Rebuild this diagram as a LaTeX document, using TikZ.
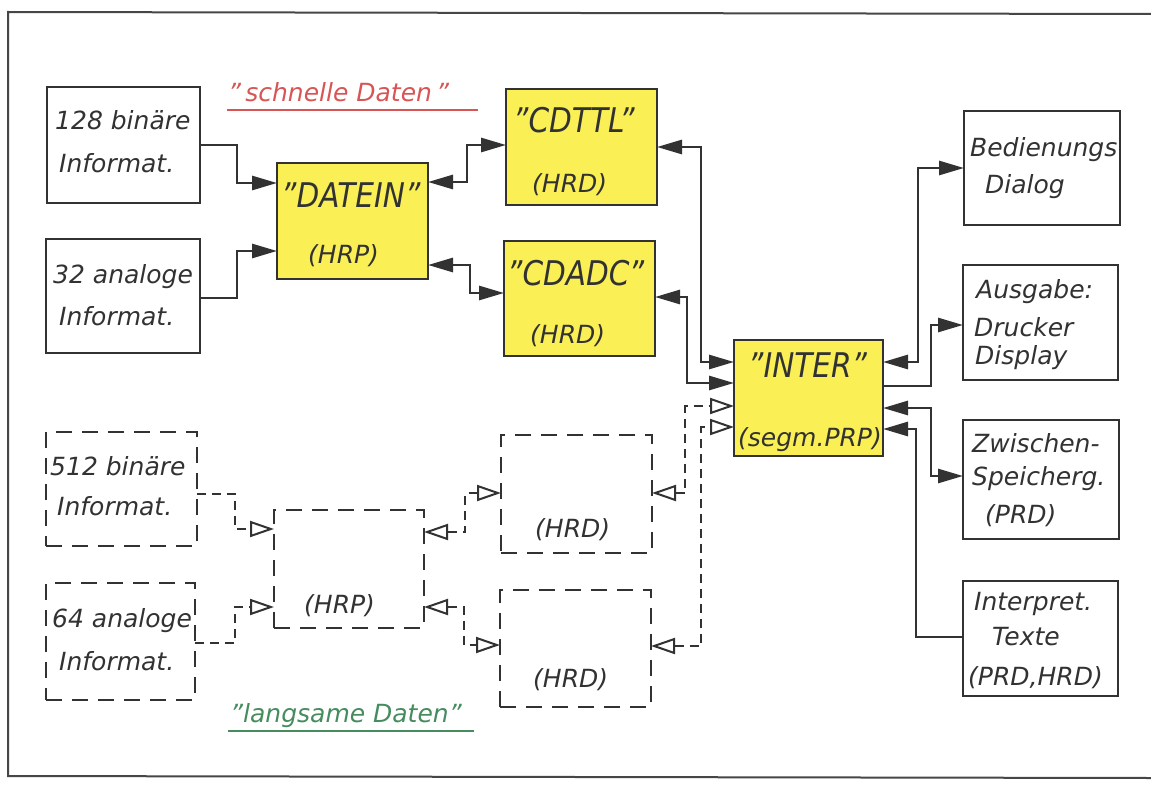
\documentclass[tikz,border=0pt]{standalone}
\usepackage{fontspec}
\setmainfont{DejaVu Sans}
\usepackage{graphicx}
\usetikzlibrary{arrows.meta}
\definecolor{ink}{RGB}{50,50,50}
\definecolor{boxyellow}{RGB}{250,240,85}
\definecolor{fastred}{RGB}{215,85,85}
\definecolor{slowgreen}{RGB}{70,140,95}
\definecolor{framegray}{RGB}{70,70,70}
\tikzset{
  sz/.style 2 args={minimum width=#1pt, minimum height=#2pt},
  box/.style={draw=ink, line width=2.6pt, inner sep=0pt, outer sep=0pt, fill=white},
  ybox/.style={box, fill=boxyellow},
  dbox/.style={draw=ink, line width=2pt, inner sep=0pt, outer sep=0pt, dash pattern=on 16pt off 10pt},
  txt/.style={inner sep=0pt, anchor=base west, text=ink, font=\fontsize{25}{25}\selectfont\itshape},
  big/.style={inner sep=0pt, anchor=base west, text=ink, font=\fontsize{34}{34}\selectfont\itshape},
  conn/.style={draw=ink, line width=2.8pt},
  dconn/.style={draw=ink, line width=2pt, dash pattern=on 9pt off 6pt},
  sarr/.style={conn, -{Triangle[length=25pt,width=14pt]}},
  sboth/.style={conn, {Triangle[length=25pt,width=14pt]}-{Triangle[length=25pt,width=14pt]}},
  hboth/.style={dconn, {Triangle[open,length=24pt,width=16pt]}-{Triangle[open,length=24pt,width=16pt]}},
  harr/.style={dconn, -{Triangle[open,length=24pt,width=16pt]}},
}
\begin{document}
\begin{tikzpicture}[x=1pt, y=-1pt]
\useasboundingbox (0,0) rectangle (1151,789);
\fill[white] (0,0) rectangle (1151,789);
% outer frame
\draw[framegray, line width=2pt] (1151,14) -- (8,12) -- (8,776) -- (1151,778);

% boxes
\node[box, sz={153}{116}] (b1) at (123.5,145) {};
\node[box, sz={154}{114}] (b2) at (123,296) {};
\node[ybox, sz={151}{116}] (datein) at (352.5,221) {};
\node[ybox, sz={151}{116}] (cdttl) at (581.5,147) {};
\node[ybox, sz={151}{115}] (cdadc) at (579.5,298.5) {};
\node[ybox, sz={149}{116}] (inter) at (808.5,398) {};
\node[box, sz={156}{114}] (bed) at (1042,168) {};
\node[box, sz={155}{115}] (aus) at (1040.5,322.5) {};
\node[box, sz={156}{119}] (zw) at (1041,479.5) {};
\node[box, sz={155}{115}] (intp) at (1040.5,638.5) {};
\node[dbox, sz={151}{114}] (d512) at (121.5,489) {};
\node[dbox, sz={149}{117}] (d64) at (120.5,641.5) {};
\node[dbox, sz={150}{118}] (hrp) at (349,569) {};
\node[dbox, sz={151}{118}] (hrd1) at (576.5,494) {};
\node[dbox, sz={151}{117}] (hrd2) at (575.5,648.5) {};

% texts
\node[txt] (t1a) at (55,130) {128 binäre};
\node[txt] (t1b) at (59,172) {Informat.};
\node[txt] (t2a) at (53,283) {32 analoge};
\node[txt] (t2b) at (59,325) {Informat.};
\node[big] (t3a) at (281,207) {\scalebox{0.87}[1]{"DATEIN"}};
\node[txt] (t3b) at (308,263) {(HRP)};
\node[big] (t4a) at (513,132) {\scalebox{0.87}[1]{"CDTTL"}};
\node[txt] (t4b) at (532,192) {(HRD)};
\node[big] (t5a) at (507,285) {\scalebox{0.87}[1]{"CDADC"}};
\node[txt] (t5b) at (530,343) {(HRD)};
\node[big] (t6a) at (748,377) {\scalebox{0.87}[1]{"INTER"}};
\node[txt] (t6b) at (738,446) {(segm.PRP)};
\node[txt] (t7a) at (970,157) {Bedienungs};
\node[txt] (t7b) at (985,193) {Dialog};
\node[txt] (t8a) at (976,298) {Ausgabe:};
\node[txt] (t8b) at (974,336) {Drucker};
\node[txt] (t8c) at (975,364) {Display};
\node[txt] (t9a) at (972,452) {Zwischen-};
\node[txt] (t9b) at (972,485) {Speicherg.};
\node[txt] (t9c) at (985,523) {(PRD)};
\node[txt] (t10a) at (974,610) {Interpret.};
\node[txt] (t10b) at (992,645) {Texte};
\node[txt] (t10c) at (968,685) {(PRD,HRD)};
\node[txt] (t11a) at (50,475) {512 binäre};
\node[txt] (t11b) at (57,515) {Informat.};
\node[txt] (t12a) at (52,627) {64 analoge};
\node[txt] (t12b) at (59,670) {Informat.};
\node[txt] (t13) at (304,613) {(HRP)};
\node[txt] (t14) at (535,537) {(HRD)};
\node[txt] (t15) at (533,687) {(HRD)};
\node[txt, text=fastred] (fast) at (228,102) {"\,schnelle Daten\,"};
\node[txt, text=slowgreen] (slow) at (230,722) {"langsame Daten"};
\draw[fastred, line width=1.5pt] (227,110) -- (478,110);
\draw[slowgreen, line width=1.5pt] (228,731) -- (474,731);

% solid connectors
\draw[sarr] (b1.east |- 0,145) -| (237,183) -- (datein.west |- 0,183);
\draw[sarr] (b2.east |- 0,298) -| (237,251) -- (datein.west |- 0,251);
\draw[sboth] (datein.east |- 0,182) -| (467,145) -- (cdttl.west |- 0,145);
\draw[sboth] (datein.east |- 0,265) -| (470,293) -- (cdadc.west |- 0,293);
\draw[sboth] (cdttl.east |- 0,147) -| (701,362) -- (inter.west |- 0,362);
\draw[sboth] (cdadc.east |- 0,297) -| (687,383) -- (inter.west |- 0,383);
\draw[sboth] (inter.east |- 0,362) -| (918,168) -- (bed.west |- 0,168);
\draw[sarr] (inter.east |- 0,386) -| (931,325) -- (aus.west |- 0,325);
\draw[sboth] (inter.east |- 0,408) -| (931,476) -- (zw.west |- 0,476);
\draw[sarr] (intp.west |- 0,637) -| (916,429) -- (inter.east |- 0,429);

% dashed connectors
\draw[harr] (d512.east |- 0,494) -| (235,529) -- (hrp.west |- 0,529);
\draw[harr] (d64.east |- 0,643) -| (235,607) -- (hrp.west |- 0,607);
\draw[hboth] (hrp.east |- 0,532) -| (465,493) -- (hrd1.west |- 0,493);
\draw[hboth] (hrp.east |- 0,607) -| (464,645) -- (hrd2.west |- 0,645);
\draw[hboth] (hrd1.east |- 0,493) -| (685,406) -- (inter.west |- 0,406);
\draw[hboth] (hrd2.east |- 0,646) -| (701,427) -- (inter.west |- 0,427);
\end{tikzpicture}
\end{document}
